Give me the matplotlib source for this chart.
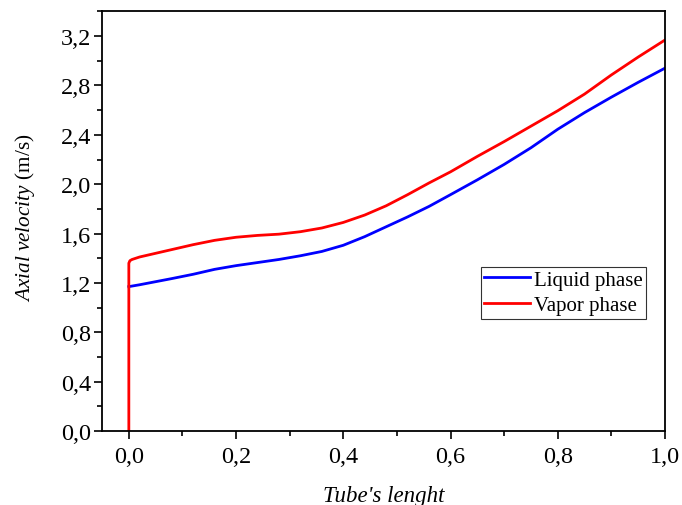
import matplotlib
matplotlib.use("Agg")
import matplotlib.pyplot as plt
from matplotlib.ticker import MultipleLocator, FuncFormatter

plt.rcParams['font.family'] = ['Liberation Serif', 'DejaVu Serif']
plt.rcParams['mathtext.fontset'] = 'custom'
plt.rcParams['mathtext.rm'] = 'Liberation Serif'
plt.rcParams['mathtext.it'] = 'Liberation Serif:italic'

# Axial velocity along the tube (normalised length)
x_liquid = [0.0, 0.02, 0.05, 0.08, 0.12, 0.16, 0.20, 0.24, 0.28, 0.32, 0.36,
            0.40, 0.44, 0.48, 0.52, 0.56, 0.60, 0.65, 0.70, 0.75, 0.80,
            0.85, 0.90, 0.95, 1.00]
v_liquid = [1.17, 1.185, 1.21, 1.235, 1.27, 1.31, 1.34, 1.365, 1.39, 1.42, 1.455,
            1.505, 1.575, 1.655, 1.735, 1.82, 1.915, 2.035, 2.16, 2.295, 2.445,
            2.58, 2.705, 2.825, 2.94]

x_vapor = [0.0, 0.0, 0.002, 0.006, 0.02, 0.05, 0.08, 0.12, 0.16, 0.20, 0.24,
           0.28, 0.32, 0.36, 0.40, 0.44, 0.48, 0.52, 0.56, 0.60, 0.65, 0.70,
           0.75, 0.80, 0.85, 0.90, 0.95, 1.00]
v_vapor = [0.0, 1.36, 1.38, 1.39, 1.41, 1.44, 1.47, 1.51, 1.545, 1.57, 1.585,
           1.595, 1.615, 1.645, 1.69, 1.75, 1.825, 1.915, 2.01, 2.10, 2.225, 2.345,
           2.47, 2.595, 2.73, 2.885, 3.03, 3.168]

series_labels = ["Liquid phase", "Vapor phase"]
x_label = "Tube's lenght"
y_label = r"$\mathit{Axial\ velocity}$ (m/s)"

fig = plt.figure(figsize=(6.82, 5.06), dpi=100)
ax = fig.add_axes([0.1496, 0.1462, 0.8254, 0.8293])

ax.plot(x_liquid, v_liquid, color='#0000ff', lw=2.0, label=series_labels[0])
ax.plot(x_vapor, v_vapor, color='#ff0000', lw=2.0, label=series_labels[1])

ax.set_xlim(-0.05, 1.0)
ax.set_ylim(0.0, 3.4)

ax.xaxis.set_major_locator(MultipleLocator(0.2))
ax.xaxis.set_minor_locator(MultipleLocator(0.1))
ax.yaxis.set_major_locator(MultipleLocator(0.4))
ax.yaxis.set_minor_locator(MultipleLocator(0.2))

comma = FuncFormatter(lambda v, p: f"{v:.1f}".replace('.', ','))
ax.xaxis.set_major_formatter(comma)
ax.yaxis.set_major_formatter(comma)

ax.tick_params(which='both', direction='out', top=False, right=False,
               width=1.2, labelsize=17.5)
ax.tick_params(which='major', length=6)
ax.tick_params(which='minor', length=3.5)
ax.tick_params(axis='y', pad=2)
ax.tick_params(axis='x', pad=5)
for s in ax.spines.values():
    s.set_linewidth(1.3)

ax.set_xlabel(x_label, fontsize=16.5, style='italic', labelpad=13)
ax.set_ylabel(y_label, fontsize=15.3)
ax.yaxis.set_label_coords(-0.115, 0.51)

leg = ax.legend(loc='upper left', bbox_to_anchor=(0.673, 0.391), fontsize=15,
                frameon=True, fancybox=False, edgecolor='black',
                handlelength=2.2, handletextpad=0.2, borderpad=0.15,
                labelspacing=0.3, borderaxespad=0.0)
leg.get_frame().set_linewidth(0.8)

fig.savefig("out.png", dpi=100)
